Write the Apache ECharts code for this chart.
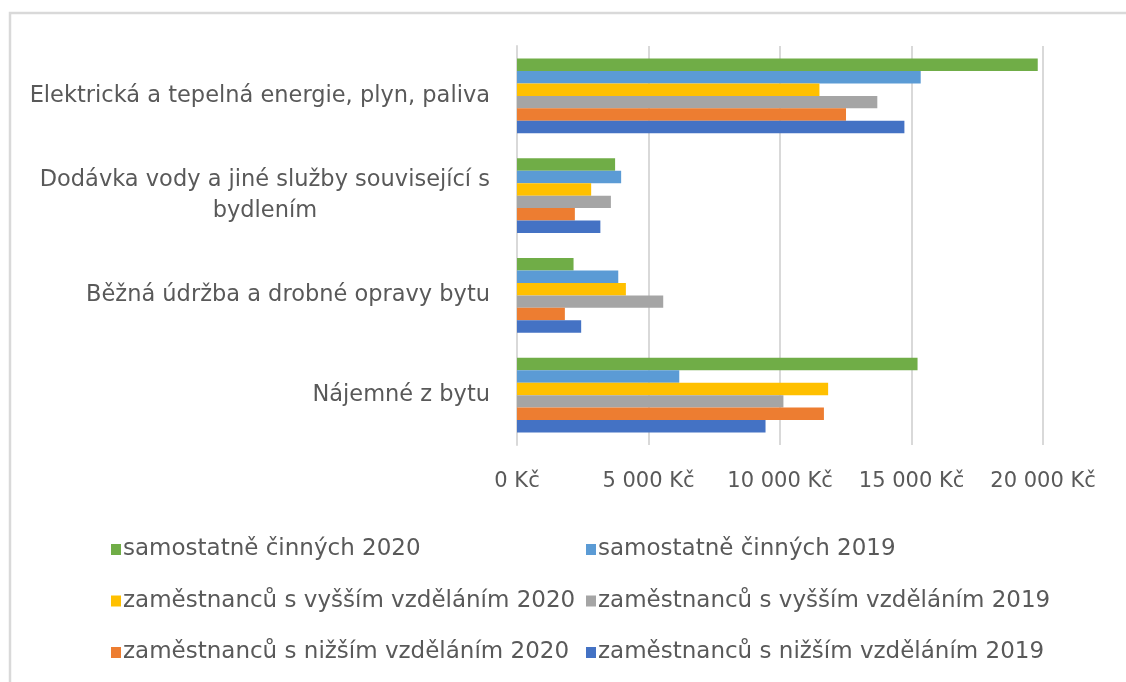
<!DOCTYPE html>
<html>
<head>
<meta charset="utf-8">
<script src="https://cdn.jsdelivr.net/npm/echarts@6/dist/echarts.min.js"></script>
<style>html,body{margin:0;padding:0;background:#fff;}#c{width:1126px;height:682px;}</style>
</head>
<body>
<div id="c"></div>
<script>
const categories = [
  'Elektrická a tepelná energie, plyn, paliva',
  'Dodávka vody a jiné služby související s\nbydlením',
  'Běžná údržba a drobné opravy bytu',
  'Nájemné z bytu'
];
const seriesNames = [
  'samostatně činných 2020',
  'samostatně činných 2019',
  'zaměstnanců s vyšším vzděláním 2020',
  'zaměstnanců s vyšším vzděláním 2019',
  'zaměstnanců s nižším vzděláním 2020',
  'zaměstnanců s nižším vzděláním 2019'
];
const samostatne2020 = [19800, 3730, 2150, 15230];
const samostatne2019 = [15350, 3960, 3850, 6170];
const vyssi2020 = [11500, 2820, 4140, 11830];
const vyssi2019 = [13700, 3570, 5560, 10130];
const nizsi2020 = [12510, 2200, 1820, 11670];
const nizsi2019 = [14730, 3170, 2440, 9450];
const xTicks = [0, 5000, 10000, 15000, 20000];

const values = [samostatne2020, samostatne2019, vyssi2020, vyssi2019, nizsi2020, nizsi2019];
const colors = ['#70ad47', '#5b9bd5', '#ffc000', '#a5a5a5', '#ed7d31', '#4472c4'];
const FONT = 'DejaVu Sans';
const TXT = '#595959';

function fmtKc(v) {
  return String(v).replace(/\B(?=(\d{3})+(?!\d))/g, ' ') + ' Kč';
}

const chart = echarts.init(document.getElementById('c'), null, {renderer: 'canvas'});
const series = seriesNames.map((n, i) => ({
  name: n,
  type: 'bar',
  data: values[i],
  itemStyle: {color: colors[i]},
  barGap: '0%',
  barCategoryGap: '25%',
  animation: false
}));

function legendBlock(left, idxs) {
  return {
    orient: 'vertical',
    left: left,
    top: 533,
    itemWidth: 10,
    itemHeight: 11,
    itemGap: 28.5,
    icon: 'rect',
    data: idxs.map(i => seriesNames[i]),
    textStyle: {fontFamily: FONT, fontSize: 23, color: TXT, lineHeight: 23, padding: [0, 0, 0, -3]},
    selectedMode: false
  };
}

chart.setOption({
  animation: false,
  backgroundColor: '#fff',
  grid: {left: 517, right: 83, top: 46, bottom: 237, containLabel: false},
  xAxis: {
    type: 'value',
    min: xTicks[0],
    max: xTicks[xTicks.length - 1],
    interval: 5000,
    axisLine: {show: false},
    axisTick: {show: false},
    splitLine: {show: true, lineStyle: {color: '#d9d9d9', width: 2}},
    axisLabel: {
      margin: 26,
      fontFamily: FONT, fontSize: 21, color: TXT,
      formatter: v => fmtKc(v)
    }
  },
  yAxis: {
    type: 'category',
    inverse: true,
    data: categories,
    axisLine: {show: true, lineStyle: {color: '#d9d9d9', width: 2}},
    axisTick: {show: false},
    axisLabel: {
      margin: 27,
      fontFamily: FONT, fontSize: 22.5, color: TXT,
      formatter: v => v.split('\n').map(l => '{c|' + l + '}').join('\n'),
      rich: {c: {align: 'center', fontFamily: FONT, fontSize: 22.5, color: TXT, lineHeight: 31}}
    }
  },
  legend: [legendBlock(106, [0, 2, 4]), legendBlock(581, [1, 3, 5])],
  graphic: [{
    type: 'polyline',
    shape: {points: [[10, 700], [10, 13], [1200, 13]]},
    style: {fill: null, stroke: '#d9d9d9', lineWidth: 2.5},
    silent: true
  }],
  series: series
});
</script>
</body>
</html>
